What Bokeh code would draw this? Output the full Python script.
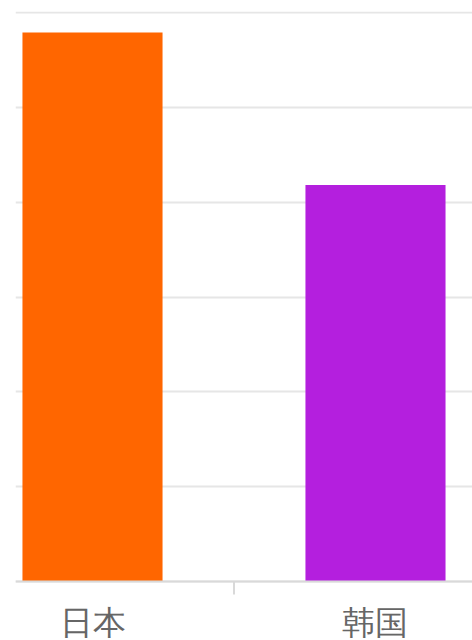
from bokeh.plotting import figure
from bokeh.models import Range1d, FixedTicker, ColumnDataSource
from bokeh.embed import file_html
from bokeh.resources import INLINE

# ---- data ----
countries = ["日本", "韩国"]
values = [5.79, 4.18]
bar_colors = ["#FF6600", "#B41FDE"]
y_ticks = [0, 1, 2, 3, 4, 5, 6]

# ---- layout (pixels) ----
W, H = 472, 640
TOP, BASE_Y, LEFT = 11, 581, 15          # frame top, pixel row of value 0, frame left
PX_PER_UNIT = (BASE_Y - 12) / max(y_ticks)
TICK_LEN = 13

centers = [i + 0.5 for i in range(len(countries))]
separators = [i for i in range(1, len(countries))]
base = [0] * len(countries)

src = ColumnDataSource(dict(x=centers, top=values, base=base, color=bar_colors, name=countries))

y_start = -(H - BASE_Y) / PX_PER_UNIT
y_end = max(y_ticks) + (12 - TOP) / PX_PER_UNIT

p = figure(width=W, height=H, output_backend="svg", toolbar_location=None,
           x_range=Range1d(0.2279, 1.8428), y_range=Range1d(y_start, y_end),
           x_axis_location=None, y_axis_location=None,
           min_border_left=LEFT, min_border_right=0, min_border_top=TOP, min_border_bottom=0,
           background_fill_color="white", border_fill_color="white")
p.outline_line_color = None

p.ygrid.ticker = FixedTicker(ticks=y_ticks)
p.ygrid.grid_line_color = "#e6e6e6"
p.ygrid.grid_line_width = 2
p.xgrid.visible = False

p.vbar(x="x", top="top", bottom="base", width=0.495, color="color", line_color=None, source=src)

# category axis: baseline and separator tick
p.hspan(y=[0], line_color="#d9d9d9", line_width=2)
p.segment(x0=separators, x1=separators, y0=[0] * len(separators),
          y1=[-TICK_LEN / PX_PER_UNIT] * len(separators),
          line_color="#d9d9d9", line_width=2)

# category labels
p.text(x="x", y="base", text="name", source=src, text_align="center",
       text_baseline="alphabetic", y_offset=41, text_font="Noto Sans CJK SC",
       text_font_size="33px", text_color="#666666")

open("out.html", "w").write(file_html(p, INLINE))
